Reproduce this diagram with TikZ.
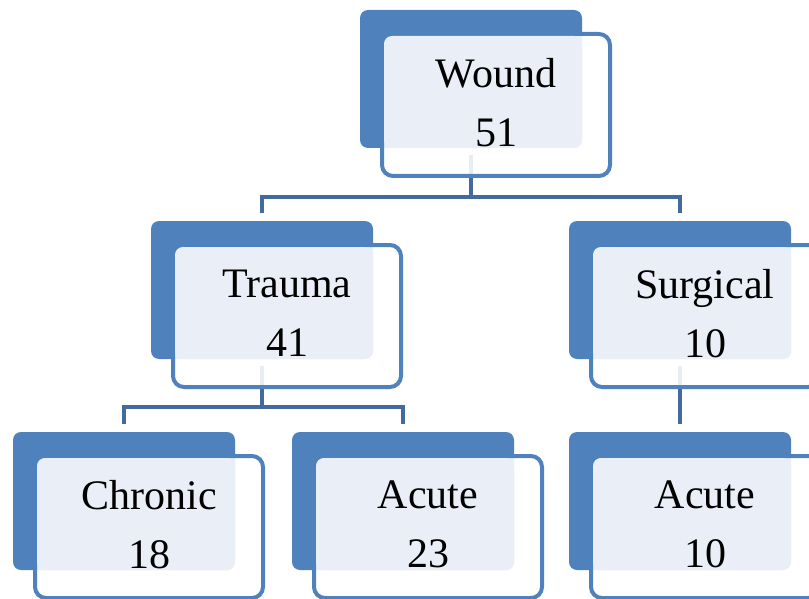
\documentclass[tikz,border=0pt]{standalone}
\usepackage{fontspec}
\setmainfont{Liberation Serif}
\usetikzlibrary{positioning,backgrounds}
\definecolor{smartblue}{RGB}{79,129,189}
\definecolor{linkblue}{RGB}{66,106,158}
\definecolor{tintblue}{RGB}{234,239,247}
\tikzset{%
  back/.style={rectangle,rounded corners=8pt,fill=smartblue,minimum width=222pt,
    minimum height=138pt,inner sep=0pt,outer sep=0pt,anchor=north west},
  front/.style={rectangle,rounded corners=11pt,draw=smartblue,line width=4pt,
    fill=white,fill opacity=.88,minimum width=228pt,minimum height=142pt,
    inner sep=0pt,outer sep=0pt,below right=24pt and 22pt of #1.north west},
  tint/.style={fill=tintblue,rounded corners=8pt},
  txt/.style={align=center,font=\fontsize{42}{59}\selectfont,yshift=2.5pt},
  link/.style={draw=linkblue,line width=4.5pt,shorten <=7pt,shorten >=8pt}
}

\begin{document}
\begin{tikzpicture}[x=1pt,y=-1pt]
	\clip (0,0) rectangle (809,599);
	% back boxes
	\node[back] (wound) at (360,10) {};
	\node[back] (trauma) at (151,221) {};
	\node[back] (surgical) at (569,221) {};
	\node[back] (chronic) at (13,432) {};
	\node[back] (tacute) at (292,432) {};
	\node[back] (sacute) at (569,432) {};
	% front boxes
	\node[front=wound] (wound-f) {};
	\node[front=trauma] (trauma-f) {};
	\node[front=surgical] (surgical-f) {};
	\node[front=chronic] (chronic-f) {};
	\node[front=tacute] (tacute-f) {};
	\node[front=sacute] (sacute-f) {};
	\foreach \n in {wound,trauma,surgical,chronic,tacute,sacute}
		\fill[tint] ([shift={(2pt,-2pt)}]\n-f.north west) rectangle (\n.south east);
	% labels
	\node[txt] (wound-t) at (wound-f) {Wound\\51};
	\node[txt] (trauma-t) at (trauma-f) {Trauma\\41};
	\node[txt] (surgical-t) at (surgical-f) {Surgical\\10};
	\node[txt] (chronic-t) at (chronic-f) {Chronic\\18};
	\node[txt] (tacute-t) at (tacute-f) {Acute\\23};
	\node[txt] (sacute-t) at (sacute-f) {Acute\\10};
	% connectors
	\begin{scope}[on background layer]
		\draw[link] (wound.south) -- ++(0,49) -| (trauma.north);
		\draw[link] (wound.south) -- ++(0,49) -| (surgical.north);
		\draw[link] (trauma.south) -- ++(0,48) -| (chronic.north);
		\draw[link] (trauma.south) -- ++(0,48) -| (tacute.north);
		\draw[link] (surgical.south) -- (sacute.north);
	\end{scope}
\end{tikzpicture}
\end{document}
